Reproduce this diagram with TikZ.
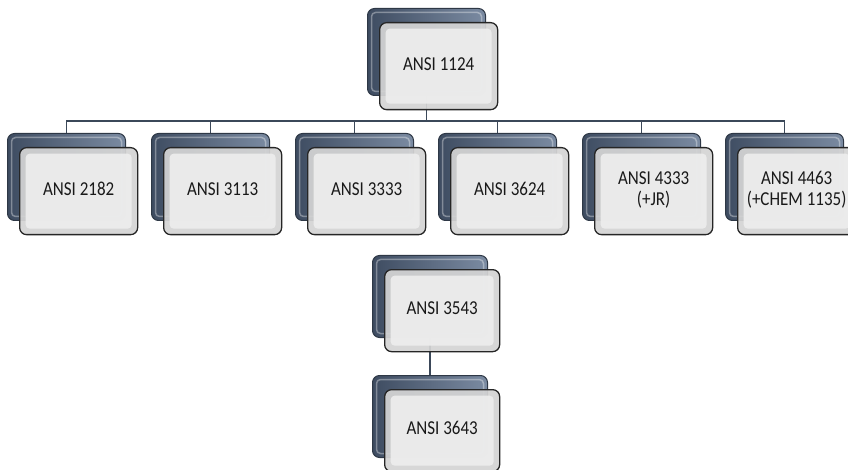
\documentclass[tikz,border=0pt]{standalone}
\usepackage{fontspec}
\setmainfont{Carlito}
\usetikzlibrary{calc}
\definecolor{backA}{HTML}{3E4C61}
\definecolor{backB}{HTML}{7B8BA2}
\definecolor{backedge}{HTML}{2E3846}
\definecolor{frontedge}{HTML}{262626}
\definecolor{frontfill}{HTML}{D4D4D4}
\definecolor{frontin}{HTML}{EDEDED}
\definecolor{linkc}{HTML}{3B4859}
\pgfdeclarelayer{bg}
\pgfsetlayers{bg,main}
\tikzset{
  backbox/.style={draw=backedge, line width=1pt, rounded corners=7pt,
    left color=backA, right color=backB, inner sep=0pt, anchor=north west,
    path picture={\draw[white,opacity=0.35,line width=1.5pt,rounded corners=4pt]
      ([shift={(4pt,-4pt)}]path picture bounding box.north west) rectangle
      ([shift={(-4pt,4pt)}]path picture bounding box.south east);}},
  frontbox/.style={draw=frontedge, line width=1.3pt, rounded corners=7pt,
    fill=frontfill, fill opacity=0.93, inner sep=0pt, anchor=north west,
    path picture={\fill[frontin,rounded corners=4pt]
      ([shift={(6pt,-6pt)}]path picture bounding box.north west) rectangle
      ([shift={(-6pt,6pt)}]path picture bounding box.south east);}},
  labeltext/.style={text=black!90, text opacity=1, inner sep=0pt,
    font=\fontsize{17}{17.4}\selectfont},
  link/.style={draw=linkc, line width=1.2pt}
}
% name, x, y (back box top left), width, height, text
\newcommand\ansibox[6]{%
  \node[backbox, minimum width=#4pt, minimum height=#5pt] (#1b) at (#2,#3) {};
  \node[frontbox, minimum width=#4pt, minimum height=#5pt] (#1) at ($(#2,#3)+(12,14)$) {};
  \node[labeltext] (#1t) at (#1.center) {\scalebox{1}[1.16]{\begin{tabular}{@{}c@{}}#6\end{tabular}}};
}
\begin{document}
\begin{tikzpicture}[x=1pt,y=-1pt]
\useasboundingbox (0,0) rectangle (848,470);
\ansibox{top}{367}{8}{118}{87}{ANSI 1124}
\ansibox{ra}{7}{133}{118}{87}{ANSI 2182}
\ansibox{rb}{151}{133}{118}{87}{ANSI 3113}
\ansibox{rc}{295}{133}{118}{87}{ANSI 3333}
\ansibox{rd}{438}{133}{118}{87}{ANSI 3624}
\ansibox{re}{582}{133}{118}{87}{ANSI 4333\\(+JR)}
\ansibox{rf}{725}{133}{118}{87}{ANSI 4463\\(+CHEM 1135)}
\ansibox{la}{372}{255}{115}{82}{ANSI 3543}
\ansibox{lb}{372}{375}{115}{82}{ANSI 3643}
\coordinate (bus) at (0,121);
\begin{pgfonlayer}{bg}
  \foreach \r in {ra,rb,rc,rd,re,rf}
    \draw[link] (topb.south) -- (topb.south |- bus) -| (\r b.north);
  \draw[link] (lab.south) -- (lbb.north);
\end{pgfonlayer}
\end{tikzpicture}
\end{document}
